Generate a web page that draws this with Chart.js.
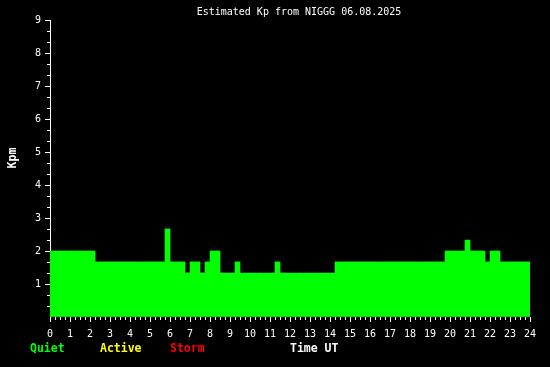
<!DOCTYPE html>
<html>
<head>
<meta charset="utf-8">
<title>Estimated Kp</title>
<script src="https://cdn.jsdelivr.net/npm/chart.js@4.4.1/dist/chart.umd.min.js"></script>
<style>
  html, body { margin: 0; padding: 0; background: #000; }
  canvas { display: block; }
</style>
</head>
<body>
<canvas id="kp-canvas" width="550" height="367"></canvas>
<script>
var title = 'Estimated Kp from NIGGG 06.08.2025';
var yLabel = 'Kpm';
var xLabel = 'Time UT';
var levelNames = ['Quiet', 'Active', 'Storm'];
var levelColors = ['#00ff00', '#ffff00', '#ff0000'];
var levelLimits = [4, 5]; // Kp >= 4 active, >= 5 storm

// 15 minute slots 00:00 .. 23:45
var slots = [];
for (var i = 0; i < 96; i++) {
	var h = Math.floor(i / 4), m = (i % 4) * 15;
	slots.push((h < 10 ? '0' : '') + h + ':' + (m < 10 ? '0' : '') + m);
}

// estimated Kp for every slot (steps of a third)
var kp = [
	2, 2, 2, 2, 2, 2, 2, 2, 2,                                   // 00:00 - 02:15
	1.67, 1.67, 1.67, 1.67, 1.67, 1.67, 1.67,
	1.67, 1.67, 1.67, 1.67, 1.67, 1.67, 1.67,                    // 02:15 - 05:45
	2.67,                                                        // 05:45
	1.67, 1.67, 1.67,                                            // 06:00 - 06:45
	1.33,                                                        // 06:45
	1.67, 1.67,                                                  // 07:00 - 07:30
	1.33,                                                        // 07:30
	1.67,                                                        // 07:45
	2, 2,                                                        // 08:00 - 08:30
	1.33, 1.33, 1.33,                                            // 08:30 - 09:15
	1.67,                                                        // 09:15
	1.33, 1.33, 1.33, 1.33, 1.33, 1.33, 1.33,                    // 09:30 - 11:15
	1.67,                                                        // 11:15
	1.33, 1.33, 1.33, 1.33, 1.33, 1.33, 1.33, 1.33, 1.33, 1.33, 1.33, // 11:30 - 14:15
	1.67, 1.67, 1.67, 1.67, 1.67, 1.67, 1.67, 1.67, 1.67, 1.67, 1.67,
	1.67, 1.67, 1.67, 1.67, 1.67, 1.67, 1.67, 1.67, 1.67, 1.67, 1.67, // 14:15 - 19:45
	2, 2, 2, 2,                                                  // 19:45 - 20:45
	2.33,                                                        // 20:45
	2, 2, 2,                                                     // 21:00 - 21:45
	1.67,                                                        // 21:45
	2, 2,                                                        // 22:00 - 22:30
	1.67, 1.67, 1.67, 1.67, 1.67, 1.67                           // 22:30 - 24:00
];
var hourRange = [0, 24];
var kpRange = [0, 9];

function kpColor(v) {
	if (v >= levelLimits[1]) return levelColors[2];
	if (v >= levelLimits[0]) return levelColors[1];
	return levelColors[0];
}

function hideZero(c) {
	return (c.tick && Math.abs(c.tick.value) < 1e-6) ? 'rgba(0,0,0,0)' : '#ffffff';
}

var fontFamily = '"DejaVu Sans Mono", "Liberation Mono", monospace';
Chart.defaults.font.family = fontFamily;
Chart.defaults.font.size = 10;
Chart.defaults.color = '#ffffff';

// title, axis names and the level legend
var textPlugin = {
	id: 'kpText',
	afterDraw: function(chart) {
		var ctx = chart.ctx;
		ctx.save();
		ctx.textBaseline = 'middle';
		ctx.fillStyle = '#ffffff';
		ctx.font = '10px ' + fontFamily;
		ctx.textAlign = 'center';
		ctx.fillText(title, 299, 12);

		ctx.font = 'bold 11.5px ' + fontFamily;
		ctx.textAlign = 'left';
		var legendX = [30, 100, 170];
		for (var i = 0; i < levelNames.length; i++) {
			ctx.fillStyle = levelColors[i];
			ctx.fillText(levelNames[i], legendX[i], 349);
		}
		ctx.fillStyle = '#ffffff';
		ctx.fillText(xLabel, 290, 349);

		ctx.translate(13, 158);
		ctx.rotate(-Math.PI / 2);
		ctx.textAlign = 'center';
		ctx.fillText(yLabel, 0, 0);
		ctx.restore();
	}
};

var canvas = document.querySelector('#kp-canvas');

new Chart(canvas, {
	type: 'bar',
	data: {
		labels: slots,
		datasets: [
			{
				label: 'Kp',
				data: kp,
				backgroundColor: function(c) { return kpColor(c.raw); },
				borderWidth: 0,
				barPercentage: 1,
				categoryPercentage: 1
			}
		]
	},
	options: {
		responsive: false,
		animation: false,
		events: [],
		layout: { padding: { top: 20, right: 20, left: 0, bottom: 0 } },
		plugins: {
			legend: { display: false },
			title: { display: false },
			tooltip: { enabled: false }
		},
		scales: {
			x: {
				type: 'category',
				display: false,
				offset: true
			},
			xm: {
				type: 'linear',
				position: 'bottom',
				weight: 0,
				min: hourRange[0],
				max: hourRange[1],
				offset: false,
				ticks: { stepSize: 0.25, display: false },
				grid: { drawOnChartArea: false, offset: false, tickLength: 3, tickColor: '#ffffff' },
				border: { display: false },
				afterFit: function(s) { s.height = 0; }
			},
			xt: {
				type: 'linear',
				position: 'bottom',
				weight: 1,
				min: hourRange[0],
				max: hourRange[1],
				offset: false,
				ticks: { stepSize: 1, padding: 6, color: '#ffffff', autoSkip: false, maxRotation: 0 },
				grid: { drawOnChartArea: false, offset: false, tickLength: 5, tickColor: '#ffffff' },
				border: { display: false },
				afterFit: function(s) { s.height = 50; }
			},
			y: {
				type: 'linear',
				position: 'left',
				weight: 1,
				min: kpRange[0],
				max: kpRange[1],
				ticks: {
					stepSize: 1,
					padding: 4,
					color: '#ffffff',
					callback: function(v) { return v === 0 ? '' : v; }
				},
				grid: { drawOnChartArea: false, tickLength: 5, tickColor: hideZero },
				border: { display: true, color: '#ffffff', width: 1 },
				afterFit: function(s) { s.width = 50; }
			},
			ym: {
				type: 'linear',
				position: 'left',
				weight: 0,
				min: kpRange[0],
				max: kpRange[1],
				ticks: { stepSize: 1 / 3, display: false },
				grid: { drawOnChartArea: false, tickLength: 3, tickColor: hideZero },
				border: { display: false },
				afterFit: function(s) { s.width = 0; }
			}
		}
	},
	plugins: [textPlugin]
});
</script>
</body>
</html>
